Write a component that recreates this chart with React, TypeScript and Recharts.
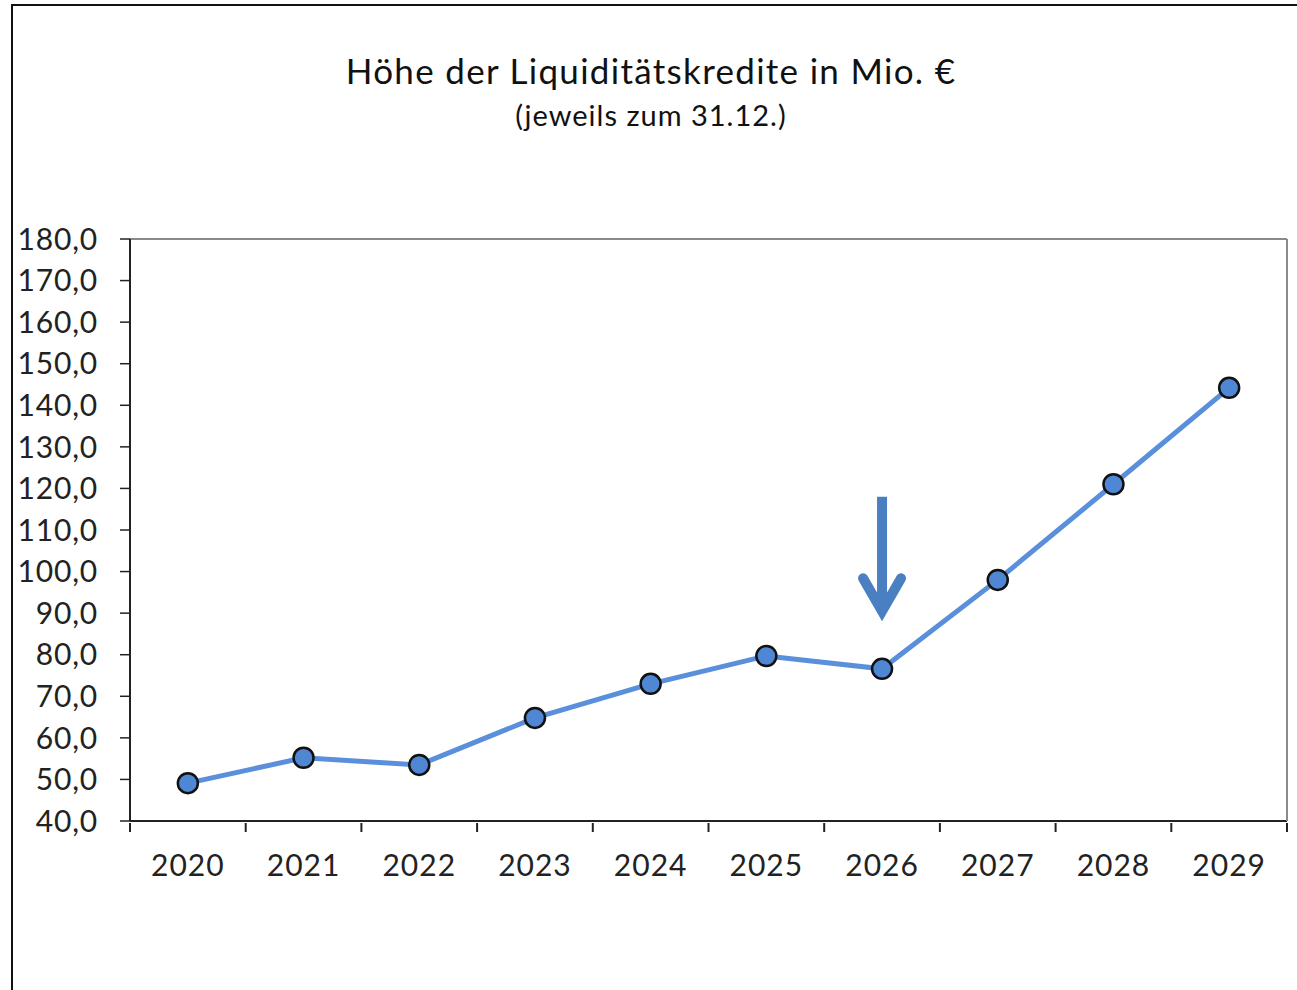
import React from 'react';
import { LineChart, Line, XAxis, YAxis, CartesianGrid, ReferenceLine } from 'recharts';

const years = ['2020', '2021', '2022', '2023', '2024', '2025', '2026', '2027', '2028', '2029'];
const credits = [49.1, 55.2, 53.5, 64.8, 73.0, 79.7, 76.6, 98.0, 121.0, 144.2];
const yTicks = [40, 50, 60, 70, 80, 90, 100, 110, 120, 130, 140, 150, 160, 170, 180];
const arrowFrom = 118;
const arrowTo = 89.5;

const W = 1297;
const H = 990;
const PLOT_LEFT = 130;
const PLOT_RIGHT = 1287;
const BAND = (PLOT_RIGHT - PLOT_LEFT) / years.length;

const data = years.map((year, i) => ({ year, value: credits[i] }));

const FONT = 'Lato, "Open Sans", sans-serif';

const XTick = (props: any) => {
    const { x, y, payload, index } = props;
    const left = x - BAND / 2;
    const isLast = index === years.length - 1;
    return (
        <g>
            <line x1={left} y1={y} x2={left} y2={y + 9} stroke="#222" strokeWidth={2} />
            {isLast && <line x1={x + BAND / 2} y1={y} x2={x + BAND / 2} y2={y + 9} stroke="#222" strokeWidth={2} />}
            <text x={x} y={y + 53} textAnchor="middle" fill="#222" fontSize={30} letterSpacing={1} fontFamily={FONT}>
                {payload.value}
            </text>
        </g>
    );
};

const ArrowShape = (props: any) => {
    const { x1, y1, y2 } = props;
    const color = '#4A7FC1';
    return (
        <g>
            <line x1={x1} y1={y1} x2={x1} y2={y2 - 8} stroke={color} strokeWidth={10} />
            <polyline
                points={`${x1 - 19},${y2 - 37} ${x1},${y2 - 4} ${x1 + 19},${y2 - 37}`}
                fill="none"
                stroke={color}
                strokeWidth={10}
                strokeLinecap="round"
                strokeLinejoin="miter"
            />
        </g>
    );
};

export default function App() {
    return (
        <div style={{ position: 'absolute', left: 0, top: 0, width: W, height: H, background: '#fff', overflow: 'hidden' }}>
            <div style={{ position: 'absolute', left: 11, top: 4, width: 1400, height: 1100, border: '2px solid #111', boxSizing: 'border-box' }} />
            <div style={{ position: 'absolute', left: 0, top: 49, width: 1302, textAlign: 'center', fontFamily: FONT, fontSize: 35, letterSpacing: 1.3, fontWeight: 400, color: '#111' }}>
                Höhe der Liquiditätskredite in Mio. €
            </div>
            <div style={{ position: 'absolute', left: 0, top: 97, width: 1302, textAlign: 'center', fontFamily: FONT, fontSize: 29, letterSpacing: 1, fontWeight: 400, color: '#111' }}>
                (jeweils zum 31.12.)
            </div>
            <div style={{ position: 'absolute', left: 0, top: 0 }}>
                <LineChart width={W} height={H} data={data} margin={{ top: 239, right: 0, left: 0, bottom: 109 }}>
                    <CartesianGrid vertical={false} stroke="#111" strokeOpacity={1} strokeWidth={1.3} />
                    <XAxis
                        dataKey="year"
                        scale="band"
                        axisLine={{ stroke: '#222', strokeWidth: 2 }}
                        tickLine={false}
                        tick={<XTick />}
                        tickSize={0}
                        height={60}
                        interval={0}
                    />
                    <YAxis
                        yAxisId="left"
                        domain={[40, 180]}
                        ticks={yTicks}
                        interval={0}
                        width={PLOT_LEFT}
                        axisLine={{ stroke: '#222', strokeWidth: 2 }}
                        tickLine={{ stroke: '#222', strokeWidth: 1.5 }}
                        tickSize={10}
                        tickMargin={22}
                        tickFormatter={(v: number) => v.toFixed(1).replace('.', ',')}
                        tick={{ fill: '#222', fontSize: 30, letterSpacing: 0.8, fontFamily: FONT }}
                    />
                    <YAxis
                        yAxisId="right"
                        orientation="right"
                        domain={[40, 180]}
                        width={W - PLOT_RIGHT}
                        tick={false}
                        tickLine={false}
                        axisLine={{ stroke: '#8a8a8a', strokeWidth: 2 }}
                    />
                    <ReferenceLine yAxisId="left" y={180} stroke="#8a8a8a" strokeWidth={2} />
                    <ReferenceLine
                        yAxisId="left"
                        segment={[{ x: '2026', y: arrowFrom }, { x: '2026', y: arrowTo }]}
                        shape={<ArrowShape />}
                    />
                    <Line
                        yAxisId="left"
                        type="linear"
                        dataKey="value"
                        stroke="#5A8FDB"
                        strokeWidth={5}
                        dot={{ r: 10, fill: '#4F87D4', stroke: '#111', strokeWidth: 2.5 }}
                        activeDot={false}
                        isAnimationActive={false}
                    />
                </LineChart>
            </div>
        </div>
    );
}
